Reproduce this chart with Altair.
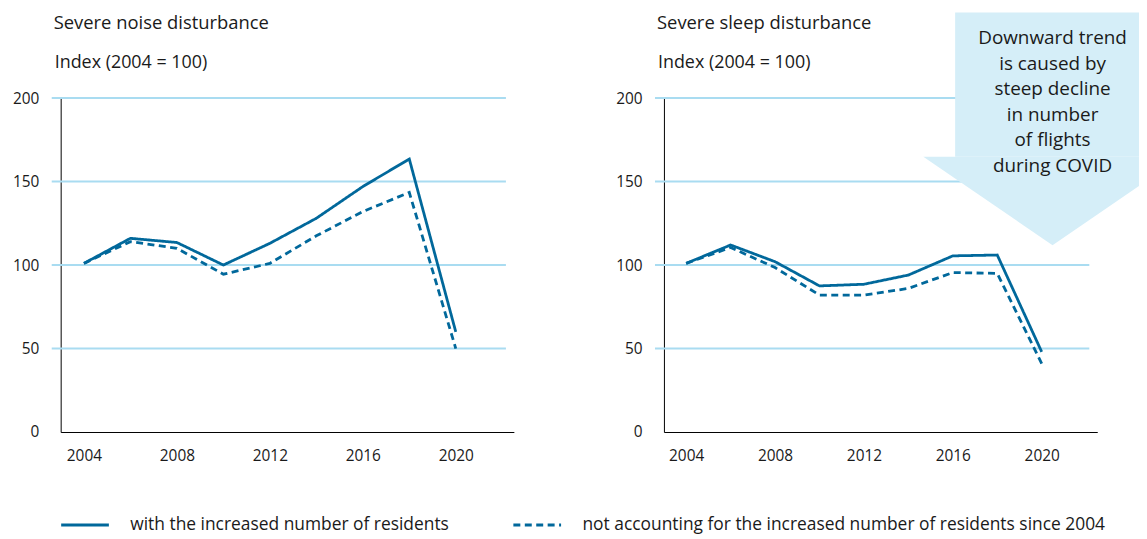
import altair as alt
import pandas as pd

# ---- data ----
years = [2004, 2006, 2008, 2010, 2012, 2014, 2016, 2018, 2020]
noise_with = [101, 116, 113.5, 100, 113, 128, 147, 163.5, 60]
noise_without = [101, 114, 110, 94.5, 101, 117.5, 132, 143.5, 50]
sleep_with = [101, 112, 102, 87.5, 88.5, 94, 105.5, 106, 48]
sleep_without = [101, 110.5, 98.5, 82, 82, 86, 95.5, 95, 41]

series_labels = [
    "with the increased number of residents",
    "not accounting for the increased number of residents since 2004",
]
panel_titles = ["Severe noise disturbance", "Severe sleep disturbance"]
subtitle = "Index (2004 = 100)"
y_ticks = [0, 50, 100, 150, 200]
grid_values = [50, 100, 150, 200]
x_ticks = [2004, 2008, 2012, 2016, 2020]
callout_lines = [
    "Downward trend",
    "is caused by",
    "steep decline",
    "in number",
    "of flights",
    "during COVID",
]

rows = []
for panel, w, wo in [("noise", noise_with, noise_without), ("sleep", sleep_with, sleep_without)]:
    for yr, a, b in zip(years, w, wo):
        rows.append({"panel": panel, "year": yr, "value": a, "series": series_labels[0]})
        rows.append({"panel": panel, "year": yr, "value": b, "series": series_labels[1]})
df = pd.DataFrame(rows)

FONT = "Open Sans"
TXT = "#1a1a1a"
LINE = "#01689B"
GRID = "#A9DCF1"
BOX = "#D5EEF8"
H = 336

yscale = alt.Scale(domain=[0, 200], nice=False, zero=True)
xscale = alt.Scale(domain=[2003, 2022.5], nice=False, zero=False)
yaxis = alt.Axis(values=y_ticks, ticks=False, grid=False, domainColor="black", domainWidth=1,
                 labelFontSize=15.5, labelFont=FONT, labelColor=TXT, labelPadding=22, title=None)
xaxis = alt.Axis(values=x_ticks, format="d", ticks=False, grid=False, domainColor="black",
                 domainWidth=1, labelFontSize=15.5, labelFont=FONT, labelColor=TXT,
                 labelPadding=17, title=None)


def make_panel(name, title, width, callout=False):
    grid = alt.Chart(pd.DataFrame({"v": grid_values})).mark_rule(
        color=GRID, strokeWidth=2
    ).encode(
        y=alt.Y("v:Q", scale=yscale, axis=yaxis),
        x=alt.value(-9),
        x2=alt.value(width - 8),
    )
    lines = alt.Chart(df).transform_filter(alt.datum.panel == name).mark_line(
        color=LINE, strokeWidth=2.8, strokeCap="butt"
    ).encode(
        x=alt.X("year:Q", scale=xscale, axis=xaxis),
        y=alt.Y("value:Q", scale=yscale, axis=yaxis),
        strokeDash=alt.StrokeDash(
            "series:N",
            scale=alt.Scale(domain=series_labels, range=[[1, 0], [7, 4.5]]),
            legend=alt.Legend(
                title=None, orient="none", legendX=-1, legendY=404,
                direction="horizontal", symbolType="stroke", symbolSize=2304,
                symbolStrokeWidth=3, symbolStrokeColor=LINE, labelFontSize=17.5,
                labelFont=FONT, labelColor=TXT, labelOffset=20, columnPadding=58,
                labelLimit=1000,
            ),
        ),
        detail="series:N",
    )
    ttl = alt.Chart(pd.DataFrame({"t": [title]})).mark_text(
        align="left", baseline="alphabetic", fontSize=18.5, font=FONT, color=TXT
    ).encode(text="t:N", x=alt.value(-7), y=alt.value(-69))
    sub = alt.Chart(pd.DataFrame({"t": [subtitle]})).mark_text(
        align="left", baseline="alphabetic", fontSize=18, font=FONT, color=TXT
    ).encode(text="t:N", x=alt.value(-6), y=alt.value(-30))
    layers = [grid]
    if callout:
        one = pd.DataFrame({"a": [0]})
        box = alt.Chart(one).mark_rect(color=BOX, opacity=1).encode(
            x=alt.value(293), x2=alt.value(478), y=alt.value(-86), y2=alt.value(59)
        )
        tri = alt.Chart(one).mark_point(
            shape="M-1,0L0.669,0L0.669,0.227L0,0.685Z", size=67600, filled=True,
            fill=BOX, opacity=1, strokeWidth=0,
        ).encode(x=alt.value(391), y=alt.value(59))
        txt = alt.Chart(pd.DataFrame({"t": ["\n".join(callout_lines)]})).mark_text(
            align="center", baseline="top", lineBreak="\n", lineHeight=25.6,
            fontSize=19, font=FONT, color=TXT,
        ).encode(text="t:N", x=alt.value(391), y=alt.value(-69))
        layers += [box, tri]
        layers += [lines, ttl, sub, txt]
    else:
        layers += [lines, ttl, sub]
    return alt.layer(*layers).properties(width=width, height=H)


left = make_panel("noise", panel_titles[0], 456)
right = make_panel("sleep", panel_titles[1], 436, callout=True)

chart = alt.hconcat(left, right, spacing=151, bounds="flush").properties(
    padding={"left": 4, "top": 3, "right": 0, "bottom": 0}
).configure_view(strokeWidth=0)

chart.save("out.html", embed_options={"renderer": "svg", "actions": False})
